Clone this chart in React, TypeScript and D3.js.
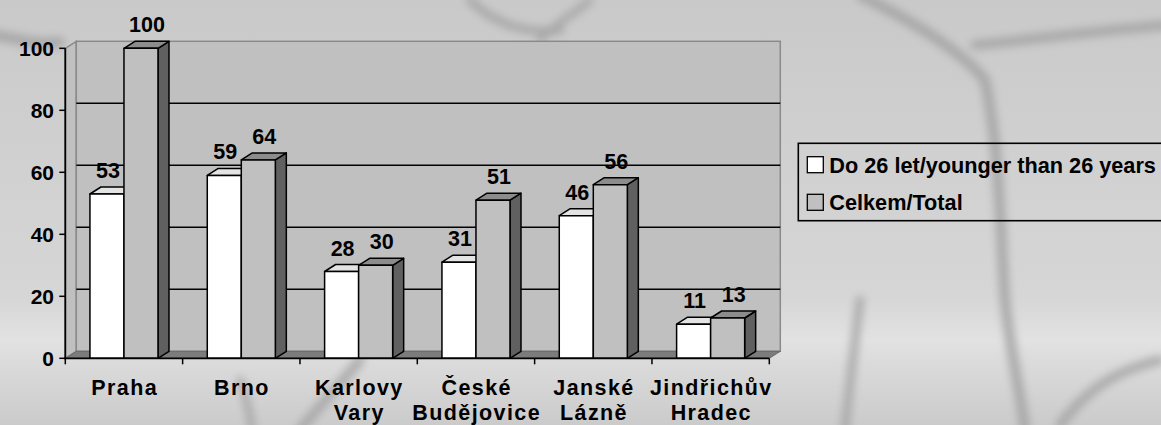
import React from "react";
import * as d3 from "d3";

const categories: string[][] = [
  ["Praha"],
  ["Brno"],
  ["Karlovy", "Vary"],
  ["České", "Budějovice"],
  ["Janské", "Lázně"],
  ["Jindřichův", "Hradec"],
];
const youngerValues = [53, 59, 28, 31, 46, 11];
const totalValues = [100, 64, 30, 51, 56, 13];
const seriesNames = ["Do 26 let/younger than 26 years", "Celkem/Total"];
const yTicks = [0, 20, 40, 60, 80, 100];

const W = 1161;
const H = 425;
const DX = 11;
const DY = -7;
const FONT = "'Liberation Sans', Arial, Helvetica, sans-serif";

export default function App() {
  const catKeys = categories.map((c) => c.join(" "));
  const x0 = 65.3;
  const x1 = 769.3;
  const xBand = d3
    .scaleBand<string>()
    .domain(catKeys)
    .range([x0, x1])
    .paddingInner(0.42)
    .paddingOuter(0.21);
  const xSeries = d3
    .scaleBand<number>()
    .domain([0, 1])
    .range([0, xBand.bandwidth()])
    .padding(0);
  const y = d3.scaleLinear().domain([0, 100]).range([358.3, 48.3]);
  const step = xBand.step();
  const yBase = y(0);
  const yTop = y(100);

  const series = [
    { values: youngerValues, front: "#ffffff", top: "#e4e4e4", side: "#9a9a9a", labelDx: 1 },
    { values: totalValues, front: "#c0c0c0", top: "#8c8c8c", side: "#606060", labelDx: 6 },
  ];

  const boundaries = d3.range(catKeys.length + 1).map((i) => x0 + i * step);

  return (
    <svg
      width={W}
      height={H}
      style={{ position: "fixed", left: 0, top: 0, display: "block" }}
      fontFamily={FONT}
    >
      <defs>
        <linearGradient id="bg" x1="0" y1="0" x2="0" y2="1">
          <stop offset="0" stopColor="#c9c9c9" />
          <stop offset="0.35" stopColor="#d0d0d0" />
          <stop offset="0.7" stopColor="#d6d6d6" />
          <stop offset="0.8" stopColor="#e2e2e2" />
          <stop offset="0.86" stopColor="#dadada" />
          <stop offset="1" stopColor="#cbcbcb" />
        </linearGradient>
        <filter id="blur" x="-20%" y="-20%" width="140%" height="140%">
          <feGaussianBlur stdDeviation="4" />
        </filter>
      </defs>
      <rect x={0} y={0} width={W} height={H} fill="url(#bg)" />
      {/* decorative background branches */}
      <g filter="url(#blur)" fill="none" stroke="#a0a0a0" strokeLinecap="round" opacity={0.85}>
        <path d="M860,-5 C910,20 960,50 985,80 C1000,150 1000,230 1005,300 C1010,350 1020,390 1025,430" strokeWidth={10} />
        <path d="M975,45 C1030,40 1100,30 1170,25" strokeWidth={9} />
        <path d="M1160,360 C1120,370 1090,385 1060,425" strokeWidth={9} />
        <path d="M470,0 C490,20 520,35 560,30" strokeWidth={8} />
        <path d="M540,40 C560,20 580,10 590,0" strokeWidth={7} />
        <path d="M-5,35 C20,40 40,45 60,42" strokeWidth={10} />
        <path d="M360,360 C340,385 320,405 300,430" strokeWidth={9} />
        <path d="M860,300 C855,340 850,380 845,430" strokeWidth={8} />
        <path d="M240,380 C245,395 250,410 252,430" strokeWidth={7} />
      </g>

      {/* left wall */}
      <polygon
        points={`${x0},${yTop} ${x0 + DX},${yTop + DY} ${x0 + DX},${yBase + DY} ${x0},${yBase}`}
        fill="#c0c0c0"
        stroke="#8a8a8a"
        strokeWidth={1.5}
      />
      {/* back wall */}
      <rect
        x={x0 + DX}
        y={yTop + DY}
        width={x1 - x0}
        height={yBase - yTop}
        fill="#c0c0c0"
        stroke="#8a8a8a"
        strokeWidth={1.5}
      />
      {/* gridlines on back wall */}
      {yTicks
        .filter((t) => t > 0 && t < 100)
        .map((t) => (
          <line
            key={`g${t}`}
            x1={x0 + DX}
            x2={x1 + DX}
            y1={y(t) + DY}
            y2={y(t) + DY}
            stroke="#000"
            strokeWidth={1.5}
          />
        ))}
      {/* floor */}
      <polygon
        points={`${x0},${yBase} ${x0 + DX},${yBase + DY} ${x1 + DX},${yBase + DY} ${x1},${yBase}`}
        fill="#7c7c7c"
        stroke="#6a6a6a"
        strokeWidth={1}
      />

      {/* bars */}
      {catKeys.map((k, ci) =>
        [0, 1].map((si) => {
          const s = series[si];
          const v = s.values[ci];
          const bx = (xBand(k) as number) + xSeries(si)!;
          const bw = xSeries.bandwidth();
          const by = y(v);
          return (
            <g key={`b${ci}-${si}`} stroke="#000" strokeWidth={1.5} strokeLinejoin="round">
              <polygon
                points={`${bx + bw},${by} ${bx + bw + DX},${by + DY} ${bx + bw + DX},${yBase + DY} ${bx + bw},${yBase}`}
                fill={s.side}
              />
              <polygon
                points={`${bx},${by} ${bx + DX},${by + DY} ${bx + bw + DX},${by + DY} ${bx + bw},${by}`}
                fill={s.top}
              />
              <rect x={bx} y={by} width={bw} height={yBase - by} fill={s.front} />
            </g>
          );
        })
      )}

      {/* value labels */}
      {catKeys.map((k, ci) =>
        series.map((s, si) => {
          const v = s.values[ci];
          const cx = (xBand(k) as number) + xSeries(si)! + xSeries.bandwidth() / 2 + s.labelDx;
          return (
            <text
              key={`l${ci}-${si}`}
              x={cx}
              y={y(v) - 16}
              textAnchor="middle"
              fontSize={21.5}
              fontWeight="bold"
              fill="#000"
            >
              {v}
            </text>
          );
        })
      )}

      {/* axes */}
      <line x1={x0} x2={x0} y1={yTop} y2={yBase} stroke="#000" strokeWidth={1.8} />
      <line x1={x0 - 1} x2={x1} y1={yBase} y2={yBase} stroke="#000" strokeWidth={1.8} />
      {yTicks.map((t) => (
        <g key={`yt${t}`}>
          <line x1={x0 - 6} x2={x0} y1={y(t)} y2={y(t)} stroke="#000" strokeWidth={1.5} />
          <text
            x={54}
            y={y(t) + 7.5}
            textAnchor="end"
            fontSize={21}
            fontWeight="bold"
            fill="#000"
          >
            {t}
          </text>
        </g>
      ))}
      {boundaries.map((bx, i) => (
        <line key={`xt${i}`} x1={bx} x2={bx} y1={yBase} y2={yBase + 6} stroke="#000" strokeWidth={1.5} />
      ))}
      {categories.map((lines, ci) => {
        const cx = (xBand(catKeys[ci]) as number) + xBand.bandwidth() / 2;
        return (
          <text
            key={`c${ci}`}
            x={cx}
            y={395}
            textAnchor="middle"
            fontSize={21.5}
            fontWeight="bold"
            letterSpacing={1.4}
            fill="#000"
          >
            {lines.map((ln, li) => (
              <tspan key={li} x={cx + 0.7} y={395 + li * 25}>
                {ln}
              </tspan>
            ))}
          </text>
        );
      })}

      {/* legend */}
      <rect x={798.3} y={143.3} width={420} height={77.4} fill="none" stroke="#000" strokeWidth={1.6} />
      {seriesNames.map((name, i) => {
        const ly = 156.7 + i * 37.6;
        return (
          <g key={`lg${i}`}>
            <rect x={807.3} y={ly} width={16} height={16} fill={series[i].front} stroke="#000" strokeWidth={1.3} />
            <text x={829.3} y={ly + 16} fontSize={21.7} fontWeight="bold" fill="#000">
              {name}
            </text>
          </g>
        );
      })}
    </svg>
  );
}
